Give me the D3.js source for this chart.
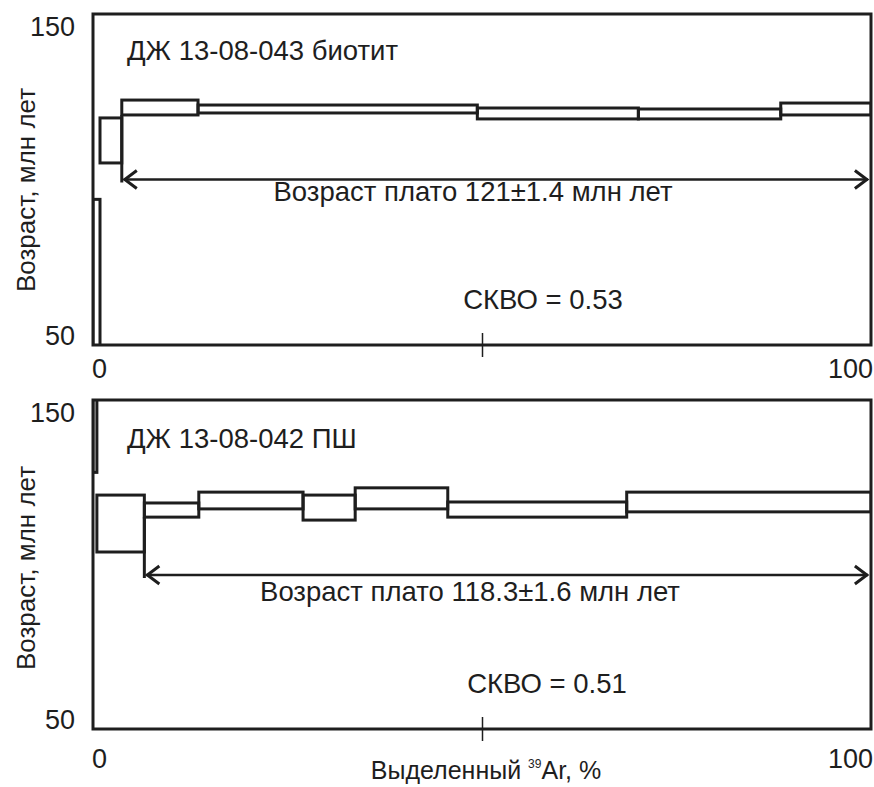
<!DOCTYPE html>
<html>
<head>
<meta charset="utf-8">
<script src="https://cdn.jsdelivr.net/npm/d3@7"></script>
<style>
  body { margin: 0; background: #fff; }
  svg text { font-family: Arial, "Liberation Sans", sans-serif; fill: #1e1e1e; }
</style>
</head>
<body>
<svg id="chart" width="874" height="787"></svg>
<script>
// 40Ar/39Ar step-heating age spectra for two samples

const xDomain = [0, 100];
const yDomain = [50, 150];
const xTickLabels = [0, 100];
const xMidTick = [50];
const yTickLabels = [150, 50];

// Sample ДЖ 13-08-043, biotite: cumulative 39Ar (%) at the end of each step, age and 2σ (Ma)
const bioCum = [0.9, 3.7, 13.5, 49.4, 70.1, 88.4, 100];
const bioAge = [70, 111.8, 121.75, 121.3, 119.95, 119.8, 121.3];
const bioErr = [24, 6.8, 2.25, 1.2, 1.65, 1.5, 1.8];

// Sample ДЖ 13-08-042 ПШ
const pshCum = [0.5, 6.6, 13.6, 27.0, 33.7, 45.6, 68.6, 100];
const pshAge = [145, 112.45, 116.55, 119.45, 117.3, 120.1, 116.7, 119.0];
const pshErr = [17, 8.65, 2.15, 2.55, 3.8, 3.2, 2.3, 3.0];

// plateau span (% 39Ar)
const plateauFrom = [3.7, 6.6];
const plateauTo = [99.6, 99.6];

const sampleTitles = ["ДЖ 13-08-043 биотит", "ДЖ 13-08-042 ПШ"];
const plateauLabels = ["Возраст плато 121±1.4 млн лет", "Возраст плато 118.3±1.6 млн лет"];
const mswdLabels = ["СКВО = 0.53", "СКВО = 0.51"];
const yTitle = "Возраст, млн лет";

const svg = d3.select("#chart");
const ink = "#1e1e1e";
const fontSize = 27.5;

const panels = [
  { top: 14, bottom: 345, cum: bioCum, age: bioAge, err: bioErr,
    arrowAge: 100, titleY: 60, plateauY: 201, plateauX: 473, mswdX: 543, mswdY: 309,
    yTitleY: 190, xLabY: 378 },
  { top: 400, bottom: 729, cum: pshCum, age: pshAge, err: pshErr,
    arrowAge: 96.8, titleY: 448, plateauY: 601, plateauX: 470, mswdX: 547, mswdY: 693,
    yTitleY: 568, xLabY: 768 }
];

const left = 93, right = 871;
const x = d3.scaleLinear().domain(xDomain).range([left, right]);

panels.forEach((p, i) => {
  const y = d3.scaleLinear().domain(yDomain).range([p.bottom, p.top]);
  const g = svg.append("g");

  const clipId = "clip" + i;
  svg.append("clipPath").attr("id", clipId)
    .append("rect").attr("x", left).attr("y", p.top)
    .attr("width", right - left).attr("height", p.bottom - p.top);

  // step boxes
  const steps = p.cum.map((c, k) => ({
    x0: k === 0 ? 0 : p.cum[k - 1], x1: c, lo: p.age[k] - p.err[k], hi: p.age[k] + p.err[k]
  }));
  g.append("g").attr("clip-path", `url(#${clipId})`)
    .selectAll("rect").data(steps).join("rect")
    .attr("x", d => x(d.x0)).attr("width", d => x(d.x1) - x(d.x0))
    .attr("y", d => y(d.hi)).attr("height", d => y(d.lo) - y(d.hi))
    .attr("fill", "none").attr("stroke", ink).attr("stroke-width", 3);

  // plateau marker and double arrow
  const ay = y(p.arrowAge);
  const k0 = p.cum.indexOf(plateauFrom[i]);
  const startTop = Math.min(y(p.age[k0] - p.err[k0]), y(p.age[k0 + 1] - p.err[k0 + 1]));
  const xa = x(plateauFrom[i]), xb = x(plateauTo[i]);
  g.append("line").attr("x1", xa).attr("x2", xa).attr("y1", startTop).attr("y2", ay + 3)
    .attr("stroke", ink).attr("stroke-width", 3);
  g.append("line").attr("x1", xa + 2).attr("x2", xb).attr("y1", ay).attr("y2", ay)
    .attr("stroke", ink).attr("stroke-width", 2.5);
  const head = 13, spread = 9;
  g.append("path")
    .attr("d", `M${xa + 2 + head},${ay - spread}L${xa + 3},${ay}L${xa + 2 + head},${ay + spread}`)
    .attr("fill", "none").attr("stroke", ink).attr("stroke-width", 3);
  g.append("path")
    .attr("d", `M${xb - head},${ay - spread}L${xb - 1},${ay}L${xb - head},${ay + spread}`)
    .attr("fill", "none").attr("stroke", ink).attr("stroke-width", 3);

  // frame
  g.append("rect").attr("x", left).attr("y", p.top)
    .attr("width", right - left).attr("height", p.bottom - p.top)
    .attr("fill", "none").attr("stroke", ink).attr("stroke-width", 3);

  // mid tick crossing the x axis
  const ax = g.append("g").attr("transform", `translate(0,${p.bottom})`)
    .call(d3.axisBottom(x).tickValues(xMidTick).tickSize(12).tickFormat(""));
  ax.select(".domain").remove();
  ax.selectAll(".tick line").attr("y1", -12).attr("stroke", ink).attr("stroke-width", 1.5);

  // x tick labels
  g.selectAll(".xl").data(xTickLabels).join("text").attr("class", "xl")
    .attr("x", d => d === 0 ? x(d) - 1 : x(d) + 2)
    .attr("y", p.xLabY)
    .attr("text-anchor", d => d === 0 ? "start" : "end")
    .attr("font-size", 27).text(d => d);

  // y tick labels
  g.selectAll(".yl").data(yTickLabels).join("text").attr("class", "yl")
    .attr("x", 75)
    .attr("y", d => d === 150 ? y(d) + 22 : y(d))
    .attr("text-anchor", "end")
    .attr("font-size", 27).text(d => d);

  // y axis title
  g.append("text")
    .attr("transform", `translate(35,${p.yTitleY}) rotate(-90)`)
    .attr("text-anchor", "middle").attr("font-size", 26).text(yTitle);

  // annotations
  g.append("text").attr("x", 127).attr("y", p.titleY)
    .attr("font-size", fontSize).text(sampleTitles[i]);
  g.append("text").attr("x", p.plateauX).attr("y", p.plateauY)
    .attr("text-anchor", "middle").attr("font-size", fontSize).text(plateauLabels[i]);
  g.append("text").attr("x", p.mswdX).attr("y", p.mswdY)
    .attr("text-anchor", "middle").attr("font-size", fontSize).text(mswdLabels[i]);
});

// x axis title with superscript mass number
const xt = svg.append("text").attr("x", 486).attr("y", 779)
  .attr("text-anchor", "middle").attr("font-size", 25);
xt.append("tspan").text("Выделенный ");
xt.append("tspan").attr("font-size", 12).attr("dy", -11).text("39");
xt.append("tspan").attr("dy", 11).text("Ar, %");
</script>
</body>
</html>
